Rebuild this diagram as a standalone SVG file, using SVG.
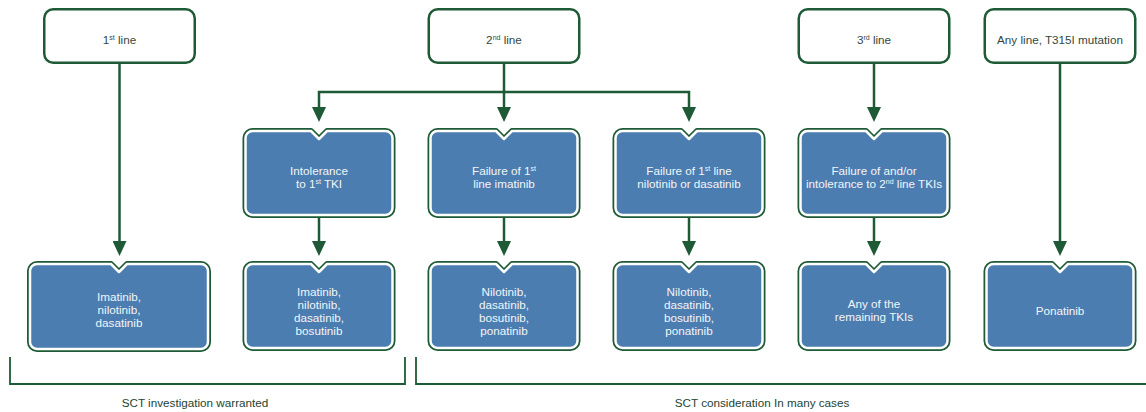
<svg xmlns="http://www.w3.org/2000/svg" xmlns:xlink="http://www.w3.org/1999/xlink" width="1146" height="412" viewBox="0 0 1146 412">
<style>
  .top { fill: #ffffff; stroke: #1d5a35; stroke-width: 2.5; }
  .bo { fill: #4b7db0; stroke: #1d5a35; stroke-width: 6; stroke-linejoin: round; }
  .bi { fill: #4b7db0; stroke: #ffffff; stroke-width: 2.5; stroke-linejoin: round; }
  .tt { font-family: "Liberation Sans", Arial, sans-serif; font-size: 11.7px; fill: #34473d; text-anchor: middle; }
  .bt { font-family: "Liberation Sans", Arial, sans-serif; font-size: 11.7px; fill: #f2f5f9; text-anchor: middle; }
  .lab { font-family: "Liberation Sans", Arial, sans-serif; font-size: 11.7px; fill: #23442f; text-anchor: middle; }
  .sup { font-size: 7px; }
  .con { fill: none; stroke: #1d5a35; stroke-width: 2.5; }
  .brk { fill: none; stroke: #1d5a35; stroke-width: 1.8; }
</style>
<defs>
  <path id="bb" d="M10,3 H68.5 L76.5,11 L84.5,3 H143 A7,7 0 0 1 150,10 V80 A7,7 0 0 1 143,87 H10 A7,7 0 0 1 3,80 V10 A7,7 0 0 1 10,3 Z"/>
  <path id="bw" d="M10,3 H84 L92,11 L100,3 H174 A7,7 0 0 1 181,10 V81 A7,7 0 0 1 174,88 H10 A7,7 0 0 1 3,81 V10 A7,7 0 0 1 10,3 Z"/>
  <marker id="ah" markerUnits="userSpaceOnUse" markerWidth="15" markerHeight="14" refX="10" refY="7" orient="auto-start-reverse">
    <path d="M0,0 L15,7 L0,14 Z" fill="#1d5a35"/>
  </marker>
</defs>

<g id="connectors">
  <path class="con" d="M119.5,64 V251" marker-end="url(#ah)"/>
  <path class="con" d="M504,64 V117" marker-end="url(#ah)"/>
  <path class="con" d="M319,117 V92 H689 V117" marker-start="url(#ah)" marker-end="url(#ah)"/>
  <path class="con" d="M874,64 V117" marker-end="url(#ah)"/>
  <path class="con" d="M1060,64 V251" marker-end="url(#ah)"/>
  <path class="con" d="M319,218 V251" marker-end="url(#ah)"/>
  <path class="con" d="M504,218 V251" marker-end="url(#ah)"/>
  <path class="con" d="M689,218 V251" marker-end="url(#ah)"/>
  <path class="con" d="M874,218 V251" marker-end="url(#ah)"/>
  <path class="brk" d="M10,357 V384 H405 V357"/>
  <path class="brk" d="M416,357 V384 H1146"/>
</g>

<g id="first-line">
  <rect class="top" x="44.25" y="9.25" width="150.5" height="53.5" rx="9"/>
  <text class="tt" x="119.5" y="44">1<tspan class="sup" dy="-4">st</tspan><tspan dy="4"> line</tspan></text>
</g>
<g id="second-line">
  <rect class="top" x="428.75" y="9.25" width="150.5" height="53.5" rx="9"/>
  <text class="tt" x="504" y="44">2<tspan class="sup" dy="-4">nd</tspan><tspan dy="4"> line</tspan></text>
</g>
<g id="third-line">
  <rect class="top" x="798.75" y="9.25" width="150.5" height="53.5" rx="9"/>
  <text class="tt" x="874" y="44">3<tspan class="sup" dy="-4">rd</tspan><tspan dy="4"> line</tspan></text>
</g>
<g id="any-line">
  <rect class="top" x="984.75" y="9.25" width="150.5" height="53.5" rx="9"/>
  <text class="tt" x="1060" y="44">Any line, T315I mutation</text>
</g>

<g id="intolerance-first">
  <use href="#bb" class="bo" x="242.5" y="128"/>
  <use href="#bb" class="bi" x="242.5" y="128"/>
  <text class="bt" x="319" y="175">Intolerance</text>
  <text class="bt" x="319" y="188">to 1<tspan class="sup" dy="-4">st</tspan><tspan dy="4"> TKI</tspan></text>
</g>
<g id="failure-imatinib">
  <use href="#bb" class="bo" x="427.5" y="128"/>
  <use href="#bb" class="bi" x="427.5" y="128"/>
  <text class="bt" x="504" y="175">Failure of 1<tspan class="sup" dy="-4">st</tspan></text>
  <text class="bt" x="504" y="188">line imatinib</text>
</g>
<g id="failure-nilotinib-dasatinib">
  <use href="#bb" class="bo" x="612.5" y="128"/>
  <use href="#bb" class="bi" x="612.5" y="128"/>
  <text class="bt" x="689" y="175">Failure of 1<tspan class="sup" dy="-4">st</tspan><tspan dy="4"> line</tspan></text>
  <text class="bt" x="689" y="188">nilotinib or dasatinib</text>
</g>
<g id="failure-second-line">
  <use href="#bb" class="bo" x="797.5" y="128"/>
  <use href="#bb" class="bi" x="797.5" y="128"/>
  <text class="bt" x="874" y="175">Failure of and/or</text>
  <text class="bt" x="874" y="188">intolerance to 2<tspan class="sup" dy="-4">nd</tspan><tspan dy="4"> line TKIs</tspan></text>
</g>

<g id="tx-first-line">
  <use href="#bw" class="bo" x="27" y="261"/>
  <use href="#bw" class="bi" x="27" y="261"/>
  <text class="bt" x="119" y="301">Imatinib,</text>
  <text class="bt" x="119" y="314">nilotinib,</text>
  <text class="bt" x="119" y="327">dasatinib</text>
</g>
<g id="tx-intolerance">
  <use href="#bb" class="bo" x="242.5" y="261"/>
  <use href="#bb" class="bi" x="242.5" y="261"/>
  <text class="bt" x="319" y="295.5">Imatinib,</text>
  <text class="bt" x="319" y="308.5">nilotinib,</text>
  <text class="bt" x="319" y="321.5">dasatinib,</text>
  <text class="bt" x="319" y="334.5">bosutinib</text>
</g>
<g id="tx-failure-imatinib">
  <use href="#bb" class="bo" x="427.5" y="261"/>
  <use href="#bb" class="bi" x="427.5" y="261"/>
  <text class="bt" x="504" y="295.5">Nilotinib,</text>
  <text class="bt" x="504" y="308.5">dasatinib,</text>
  <text class="bt" x="504" y="321.5">bosutinib,</text>
  <text class="bt" x="504" y="334.5">ponatinib</text>
</g>
<g id="tx-failure-nilotinib">
  <use href="#bb" class="bo" x="612.5" y="261"/>
  <use href="#bb" class="bi" x="612.5" y="261"/>
  <text class="bt" x="689" y="295.5">Nilotinib,</text>
  <text class="bt" x="689" y="308.5">dasatinib,</text>
  <text class="bt" x="689" y="321.5">bosutinib,</text>
  <text class="bt" x="689" y="334.5">ponatinib</text>
</g>
<g id="tx-remaining">
  <use href="#bb" class="bo" x="797.5" y="261"/>
  <use href="#bb" class="bi" x="797.5" y="261"/>
  <text class="bt" x="874" y="308">Any of the</text>
  <text class="bt" x="874" y="321">remaining TKIs</text>
</g>
<g id="tx-ponatinib">
  <use href="#bb" class="bo" x="983.5" y="261"/>
  <use href="#bb" class="bi" x="983.5" y="261"/>
  <text class="bt" x="1060" y="315">Ponatinib</text>
</g>

<g id="labels">
  <text class="lab" x="195" y="407">SCT investigation warranted</text>
  <text class="lab" x="762" y="407">SCT consideration In many cases</text>
</g>
</svg>
